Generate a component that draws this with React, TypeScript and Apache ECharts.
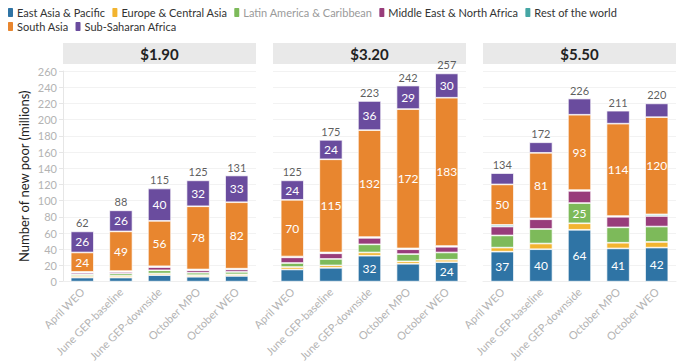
import React, { useEffect, useRef } from "react";
import * as echarts from "echarts";

const categories = ["April WEO", "June GEP-baseline", "June GEP-downside", "October MPO", "October WEO"];
const panels = ["$1.90", "$3.20", "$5.50"];
const regions = [
  "East Asia & Pacific",
  "Europe & Central Asia",
  "Latin America & Caribbean",
  "Middle East & North Africa",
  "Rest of the world",
  "South Asia",
  "Sub-Saharan Africa",
];
const colors = ["#2f74a5", "#f2b430", "#7dba5a", "#983c7b", "#45a6a4", "#e8862f", "#6a4c9e"];

// values per panel ($1.90, $3.20, $5.50), per category
const eap = [[5, 5, 8, 6, 7], [15, 17, 32, 22, 24], [37, 40, 64, 41, 42]];
const eca = [[2, 2, 2, 2, 2], [3, 3, 4, 3, 3], [5, 7, 8, 7, 7]];
const lac = [[2, 3, 4, 3, 3], [5, 8, 10, 9, 9], [15, 18, 25, 19, 19]];
const mena = [[2, 2, 4, 3, 3], [7, 7, 8, 6, 7], [11, 12, 15, 13, 13]];
const rest = [[1, 1, 1, 1, 1], [1, 1, 1, 1, 1], [2, 1, 1, 1, 2]];
const southAsia = [[24, 49, 56, 78, 82], [70, 115, 132, 172, 183], [50, 81, 93, 114, 120]];
const ssa = [[26, 26, 40, 32, 33], [24, 24, 36, 29, 30], [14, 13, 20, 16, 17]];
const regionData = [eap, eca, lac, mena, rest, southAsia, ssa];
const yTicks = { min: 0, max: 260, interval: 20 };

const FONT = "Lato, 'Noto Sans', sans-serif";

export default function App() {
  const ref = useRef<HTMLDivElement>(null);
  useEffect(() => {
    if (!ref.current) return;
    const chart = echarts.init(ref.current, null, { renderer: "svg" });
    const gridLeft = 63;
    const gridW = 193;
    const gridStep = 210;
    const gridTop = 71;
    const gridH = 216;

    const grids = panels.map((_, i) => ({
      left: gridLeft + i * gridStep,
      top: gridTop,
      width: gridW,
      height: gridH,
    }));
    const xAxes = panels.map((_, i) => ({
      type: "category",
      gridIndex: i,
      data: categories,
      axisLine: { show: true, lineStyle: { color: "#eeeeee" } },
      axisTick: { show: false },
      axisLabel: { rotate: 45, color: "#b3b3b3", fontSize: 11, fontFamily: FONT, margin: 8, interval: 0 },
    }));
    const yAxes = panels.map((_, i) => ({
      type: "value",
      gridIndex: i,
      min: yTicks.min,
      max: yTicks.max,
      interval: yTicks.interval,
      name: i === 0 ? "Number of new poor (millions)" : "",
      nameLocation: "middle",
      nameGap: 33,
      nameTextStyle: { color: "#222", fontSize: 13, fontFamily: FONT },
      axisLine: { show: i === 0, lineStyle: { color: "#e6e6e6" } },
      axisTick: { show: i === 0, length: 4, lineStyle: { color: "#e6e6e6" } },
      axisLabel: { show: i === 0, color: "#b3b3b3", fontSize: 11, fontFamily: FONT, margin: 6 },
      splitLine: { show: true, lineStyle: { color: "#f2f2f2" } },
    }));

    const series: any[] = [];
    panels.forEach((_, p) => {
      regions.forEach((name, r) => {
        series.push({
          type: "bar",
          name,
          xAxisIndex: p,
          yAxisIndex: p,
          stack: "s" + p,
          barWidth: "60%",
          data: regionData[r][p],
          itemStyle: { color: colors[r], borderColor: "#ffffff", borderWidth: 0.7 },
          label: {
            show: true,
            position: "inside",
            color: "#ffffff",
            fontSize: 12,
            fontFamily: FONT,
            formatter: (d: any) => (d.value >= 23 ? String(d.value) : ""),
          },
        });
      });
      const totals = categories.map((_, c) => regionData.reduce((s, arr) => s + arr[p][c], 0));
      series.push({
        type: "scatter",
        name: "total" + p,
        xAxisIndex: p,
        yAxisIndex: p,
        symbolSize: 0,
        data: totals,
        label: {
          show: true,
          position: "top",
          distance: 3,
          color: "#333333",
          fontSize: 11,
          fontFamily: FONT,
          formatter: (d: any) => String(d.value),
        },
      });
    });

    const graphics: any[] = [];
    panels.forEach((title, i) => {
      graphics.push({
        type: "rect",
        shape: { x: gridLeft + i * gridStep, y: 43, width: gridW, height: 21 },
        style: { fill: "#e9e9e9" },
        silent: true,
      });
      graphics.push({
        type: "text",
        x: gridLeft + i * gridStep + gridW / 2,
        y: 53.5,
        style: {
          text: title,
          fill: "#222222",
          fontSize: 15,
          fontWeight: "bold",
          fontFamily: FONT,
          align: "center",
          verticalAlign: "middle",
        },
        silent: true,
      });
    });

    const legendItem = (name: string) =>
      name === "Latin America & Caribbean" ? { name, textStyle: { color: "#9a9a9a" } } : { name };
    const legendBase = {
      left: 6,
      width: 670,
      itemWidth: 7,
      itemHeight: 11,
      itemGap: 5,
      padding: 0,
      icon: "roundRect",
      textStyle: { color: "#333333", fontSize: 11, fontFamily: FONT, padding: [0, 0, 0, -2] },
    };

    chart.setOption({
      animation: false,
      backgroundColor: "#ffffff",
      textStyle: { fontFamily: FONT },
      legend: [
        { ...legendBase, top: 6, data: regions.slice(0, 5).map(legendItem) },
        { ...legendBase, top: 20, data: regions.slice(5).map(legendItem) },
      ],
      grid: grids,
      xAxis: xAxes,
      yAxis: yAxes,
      series,
      graphic: graphics,
    } as any);
    return () => chart.dispose();
  }, []);
  return (
    <div
      ref={ref}
      style={{ position: "fixed", left: 0, top: 0, width: 679, height: 364 }}
    />
  );
}
